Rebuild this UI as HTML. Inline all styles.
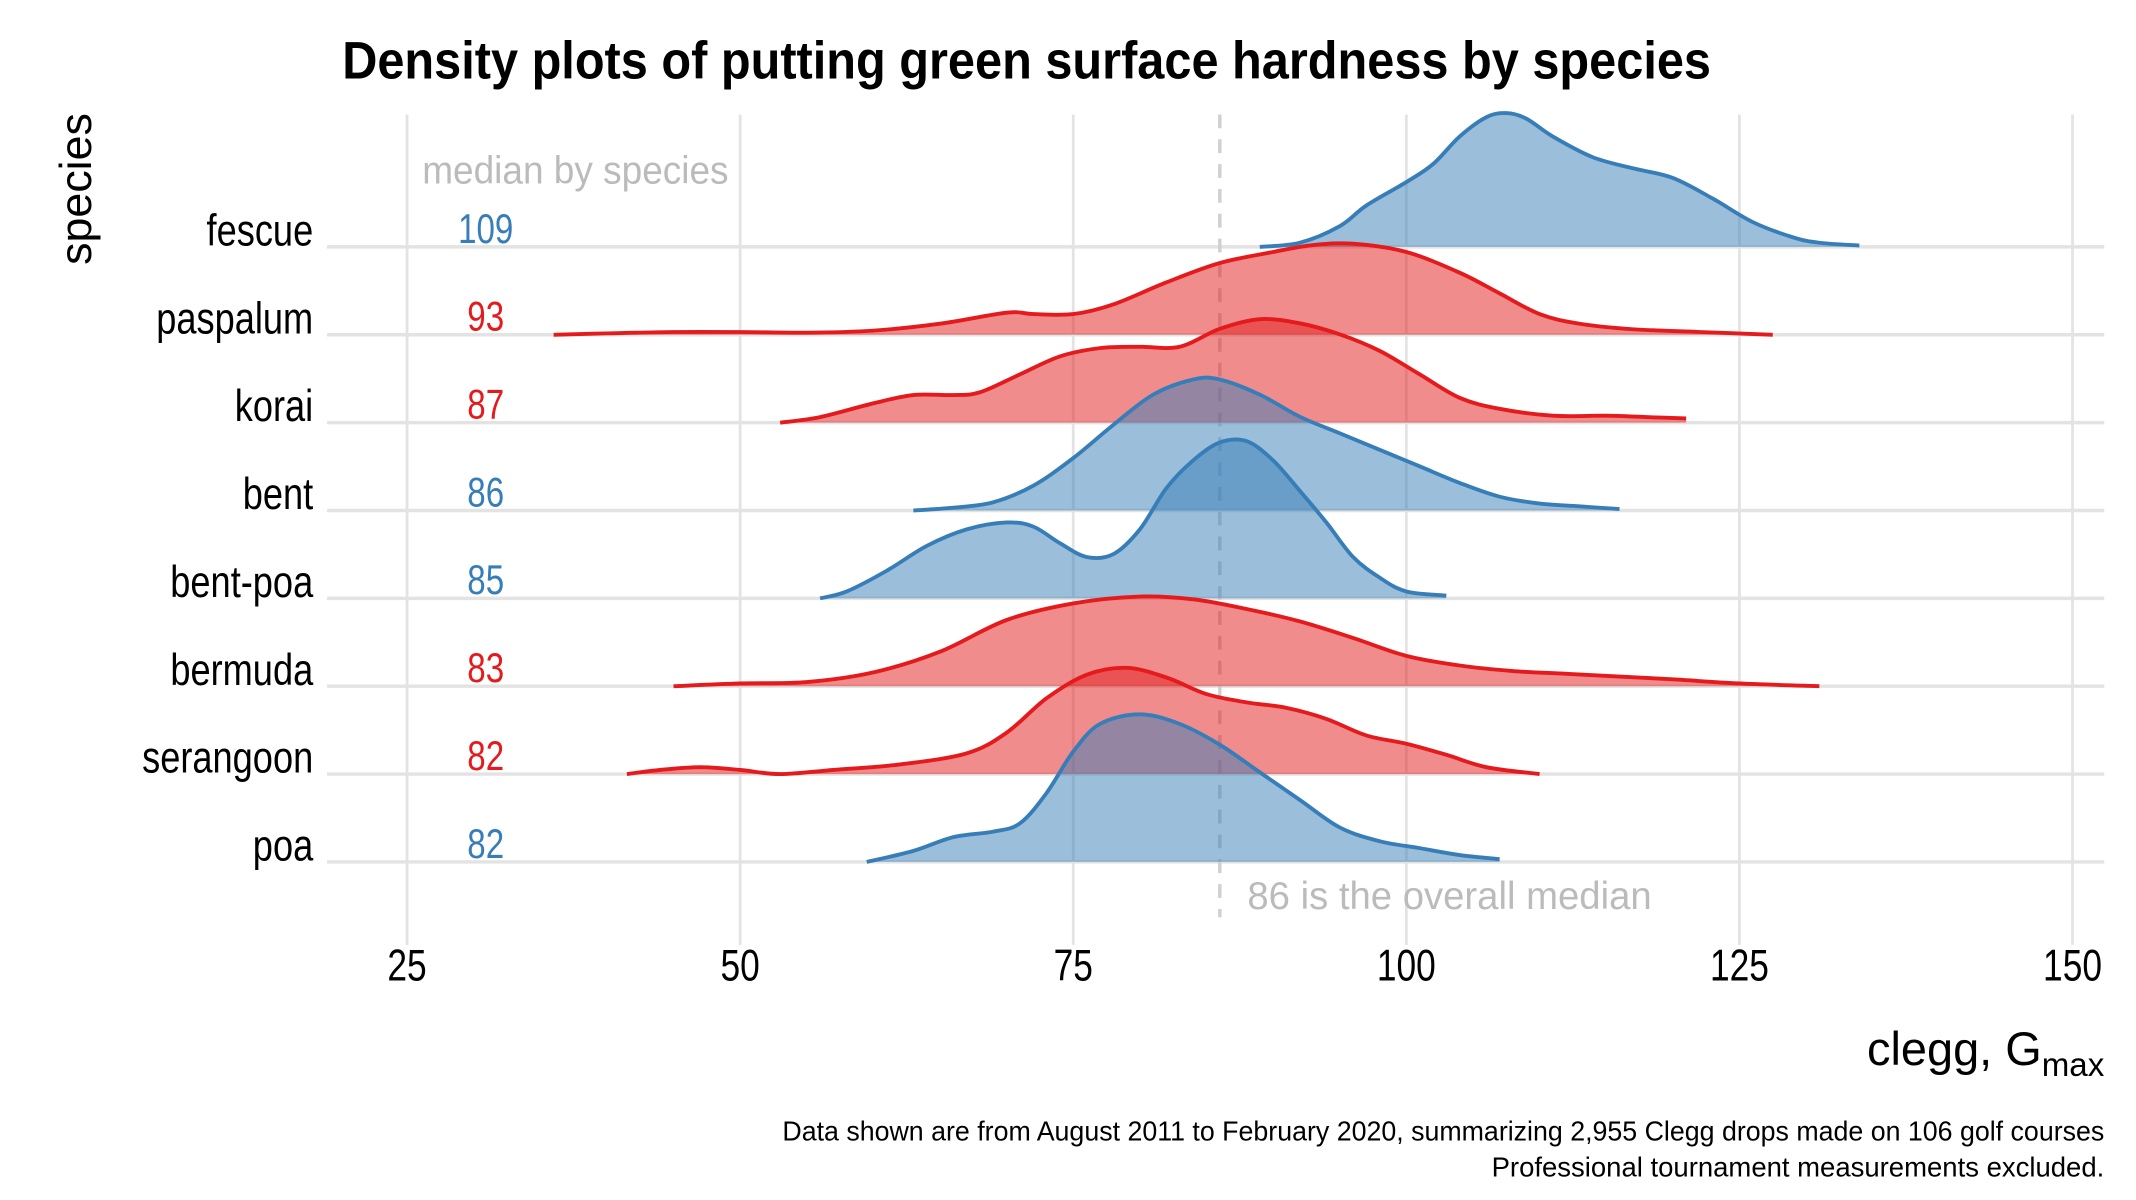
<!DOCTYPE html>
<html><head><meta charset="utf-8"><style>
html,body{margin:0;padding:0;background:#fff;}
svg{display:block;}
text{font-family:"Liberation Sans",sans-serif;}
</style></head><body>
<svg id="chart" width="2136" height="1200" viewBox="0 0 1548 870" preserveAspectRatio="none" xmlns="http://www.w3.org/2000/svg">
<g id="grid"></g>
<g id="ridges"></g>
<g id="labels"></g>
<text x="248" y="57" font-size="38" font-weight="bold" textLength="992" lengthAdjust="spacingAndGlyphs">Density plots of putting green surface hardness by species</text>
<text transform="translate(66,137) rotate(-90)" text-anchor="middle" font-size="32" textLength="110" lengthAdjust="spacingAndGlyphs">species</text>
<text x="306" y="133" font-size="28" fill="#bbbbbb" textLength="222" lengthAdjust="spacingAndGlyphs">median by species</text>
<text x="904" y="659" font-size="28" fill="#bbbbbb" textLength="293" lengthAdjust="spacingAndGlyphs">86 is the overall median</text>
<text x="1525" y="772" font-size="34" text-anchor="end">clegg, G<tspan font-size="24" dy="8">max</tspan></text>
<text x="1525" y="827" font-size="20" text-anchor="end" textLength="958" lengthAdjust="spacingAndGlyphs">Data shown are from August 2011 to February 2020, summarizing 2,955 Clegg drops made on 106 golf courses</text>
<text x="1525" y="853" font-size="20" text-anchor="end" textLength="444" lengthAdjust="spacingAndGlyphs">Professional tournament measurements excluded.</text>
</svg>
<script>
const species = ["fescue","paspalum","korai","bent","bent-poa","bermuda","serangoon","poa"];
const medians = [109,93,87,86,85,83,82,82];
const groups = ["blue","red","red","blue","blue","red","red","blue"];
const xTicks = [25,50,75,100,125,150];
const overallMedian = 86;
const fescueX = [89,92,95,97,100,102,104,106,107.5,109,111,114,117,120,123,126,129,131,134];
const fescueD = [0,3,15,30,47,60,80,94,97,93,80,65,57,50,35,18,7,3,1];
const paspalumX = [36,40,45,50,55,60,65,70,72,75,78,82,86,90,93,96,100,104,107,110,113,117,122,127.5];
const paspalumD = [0,1,2,2,1.5,3,8,16,15,15,22,38,52,60,65,66,60,45,30,15,8,4,2,0];
const koraiX = [53,56,60,63,66,68,71,74,77,80,83,86,89,92,95,98,101,104,107,111,115,118,121];
const koraiD = [0,4,14,20,20,22,35,48,54,55,55,68,75,72,64,52,35,18,10,5,5,4,3];
const bentX = [63,66,69,72,75,78,81,84,86,89,92,95,98,101,104,107,110,113,116];
const bentD = [0,2,6,18,38,62,84,95,95,84,68,56,44,32,20,10,5,3,1];
const bentPoaX = [56,58,61,64,67,70,72,74,76,78,80,82,84,86,88,90,92,94,96,98,100,103];
const bentPoaD = [0,5,20,38,50,55,52,40,30,32,50,80,100,113,114,100,78,55,30,15,5,2];
const bermudaX = [45,50,55,60,65,70,75,80,84,88,92,96,100,104,108,112,116,120,125,131];
const bermudaD = [0,2,3,10,25,48,60,65,63,56,47,35,22,15,11,9,7,5,2,0];
const serangoonX = [41.5,44,47,50,53,57,62,67,70,73,76,79,82,85,88,91,94,97,100,103,106,110];
const serangoonD = [0,3,5,3,0,3,7,15,30,55,72,77,70,58,52,48,40,28,22,14,5,0];
const poaX = [59.5,63,66,69,71,73,75,77,80,83,86,89,92,95,98,101,104,107];
const poaD = [0,8,18,22,28,50,80,100,107,100,85,65,45,25,15,10,5,2];
const seriesX = [fescueX,paspalumX,koraiX,bentX,bentPoaX,bermudaX,serangoonX,poaX];
const seriesD = [fescueD,paspalumD,koraiD,bentD,bentPoaD,bermudaD,serangoonD,poaD];

const NS="http://www.w3.org/2000/svg";
const xs = v => 295 + (v-25)*(1502-295)/125;
const rowY = i => 179 + i*63.7;
const dy = d => d*1.0;
const colors = {blue:"#377eb8", red:"#e41a1c"};
function mk(tag, attrs, parent){const e=document.createElementNS(NS,tag);for(const k in attrs)e.setAttribute(k,attrs[k]);parent.appendChild(e);return e;}
const grid=document.getElementById('grid'), ridges=document.getElementById('ridges'), labels=document.getElementById('labels');
xTicks.forEach(t=>{
  const l=mk('line',{x1:xs(t),x2:xs(t),y1:83,y2:685,stroke:"#e3e3e3","stroke-width":2},grid);
  
  
  const cx=xs(t);
  const tx=mk('text',{x:cx,y:711,"font-size":32,"text-anchor":"middle",transform:"translate("+cx+",0) scale(0.8,1) translate("+(-cx)+",0)"},labels);
  
  
  tx.textContent=t;
});
species.forEach((s,i)=>{
  const l=mk('line',{x1:237,x2:1525,y1:rowY(i),y2:rowY(i),stroke:"#e3e3e3","stroke-width":2.5},grid);
  
  
});
const ml=mk('line',{x1:xs(overallMedian),x2:xs(overallMedian),y1:83,y2:665,stroke:"#d0d0d0","stroke-width":2.5,"stroke-dasharray":"10,8"},grid);


function smooth(pts){
  let d="M"+pts[0][0]+","+pts[0][1];
  for(let i=0;i<pts.length-1;i++){
    const p0=pts[Math.max(i-1,0)],p1=pts[i],p2=pts[i+1],p3=pts[Math.min(i+2,pts.length-1)];
    const c1=[p1[0]+(p2[0]-p0[0])/6,p1[1]+(p2[1]-p0[1])/6];
    const c2=[p2[0]-(p3[0]-p1[0])/6,p2[1]-(p3[1]-p1[1])/6];
    d+=" C"+c1[0]+","+c1[1]+" "+c2[0]+","+c2[1]+" "+p2[0]+","+p2[1];
  }
  return d;
}
species.forEach((s,i)=>{
  const base=rowY(i), c=colors[groups[i]];
  const pts=seriesX[i].map((x,j)=>[xs(x),base-dy(seriesD[i][j])]);
  const line=smooth(pts);
  const area=line+" L"+pts[pts.length-1][0]+","+base+" L"+pts[0][0]+","+base+" Z";
  const a=mk('path',{d:area,fill:c,"fill-opacity":0.5,stroke:"none"},ridges);
  
  
  const p=mk('path',{d:line,fill:"none",stroke:c,"stroke-width":2.8},ridges);
  
  
  const lab=mk('text',{x:227,y:base-1,"font-size":32,"text-anchor":"end",transform:"translate(227,0) scale(0.82,1) translate(-227,0)"},labels);
  
  
  lab.textContent=s;
  const m=mk('text',{x:352,y:base-3,"font-size":30,"text-anchor":"middle",fill:c,transform:"translate(352,0) scale(0.8,1) translate(-352,0)"},labels);
  
  
  m.textContent=medians[i];
});
</script>
</body></html>
